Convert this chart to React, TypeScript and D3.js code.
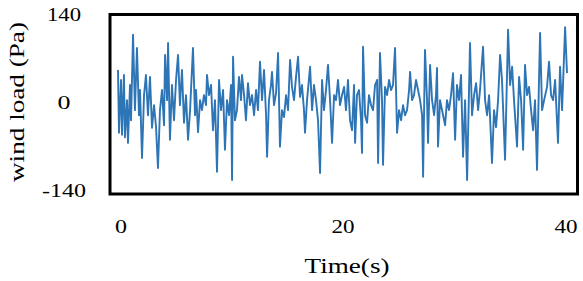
import React from "react";
import * as d3 from "d3";

const time: number[] = [
  0, 0.09, 0.27, 0.36, 0.53, 0.62, 0.8, 0.89, 1.07, 1.16, 1.34, 1.51, 1.69, 1.87, 1.96, 2.14, 2.32, 2.49, 2.67, 2.85,
  3.03, 3.21, 3.39, 3.56, 3.74, 3.92, 4.1, 4.19, 4.37, 4.46, 4.63, 4.81, 4.99, 5.17, 5.35, 5.52, 5.7, 5.88, 6.06, 6.24,
  6.42, 6.68, 6.86, 6.95, 7.13, 7.31, 7.48, 7.66, 7.84, 7.93, 8.11, 8.29, 8.46, 8.64, 8.82, 9.0, 9.18, 9.36, 9.53, 9.71,
  9.89, 10.07, 10.16, 10.25, 10.42, 10.6, 10.78, 10.96, 11.05, 11.23, 11.4, 11.58, 11.76, 11.94, 12.12, 12.3, 12.47, 12.65, 12.83, 13.01,
  13.19, 13.28, 13.45, 13.63, 13.72, 13.9, 14.08, 14.26, 14.43, 14.61, 14.79, 14.97, 15.15, 15.33, 15.5, 15.68, 15.86, 16.04, 16.22, 16.39,
  16.57, 16.66, 16.84, 17.11, 17.29, 17.46, 17.64, 17.82, 18.0, 18.18, 18.35, 18.53, 18.71, 18.89, 19.07, 19.25, 19.42, 19.6, 19.78, 19.96,
  20.14, 20.31, 20.49, 20.67, 20.85, 21.03, 21.12, 21.29, 21.47, 21.65, 21.74, 21.83, 22.01, 22.19, 22.36, 22.54, 22.72, 22.9, 23.08, 23.17,
  23.34, 23.52, 23.61, 23.79, 23.97, 24.15, 24.32, 24.5, 24.68, 24.86, 25.04, 25.22, 25.39, 25.57, 25.75, 25.93, 26.02, 26.2, 26.37, 26.55,
  26.73, 26.91, 27.09, 27.18, 27.35, 27.53, 27.62, 27.8, 27.98, 28.16, 28.33, 28.42, 28.51, 28.69, 28.96, 29.14, 29.31, 29.49, 29.67, 29.85,
  30.03, 30.2, 30.38, 30.56, 30.74, 30.92, 31.1, 31.36, 31.54, 31.72, 31.9, 32.08, 32.25, 32.52, 32.7, 32.88, 33.06, 33.32, 33.5, 33.68,
  33.86, 34.04, 34.21, 34.48, 34.75, 34.93, 35.11, 35.28, 35.55, 35.73, 35.91, 36.09, 36.26, 36.44, 36.62, 36.8, 36.98, 37.15, 37.33, 37.6,
  37.78, 37.96, 38.22, 38.4, 38.58, 38.76, 38.94, 39.2, 39.38, 39.56, 39.83, 40.0,
];

const windLoad: number[] = [
  51, -49, 35, -52, 43, -56, 3, -65, 27, -29, 107, -13, 86, -21, 19, -89, 11, 43, -21, 40,
  -41, -5, -40, -105, -13, 19, -37, 75, 3, 94, -60, 27, -29, 35, 75, -5, 51, -33, 11, -60,
  -13, 86, -21, 19, -48, 3, -13, 11, -5, 43, 11, 27, -45, 3, -111, 35, -13, 19, -76, 3,
  -21, 27, -124, 72, -29, -13, 40, 3, 43, 11, -29, 30, -5, 11, -21, 19, -13, 64, 3, 51,
  -21, -87, 3, 27, 48, -5, 14, 78, -71, -13, -24, 11, -13, 67, 24, 3, 40, 72, 8, 27,
  -13, -49, 3, 56, -13, 27, 3, -29, -113, 35, -13, 19, 59, 3, -65, 11, 3, 35, -5, 11,
  24, -13, 35, -29, -45, 27, -65, 11, 19, -29, -81, 88, -21, -33, 11, -5, -13, 27, 35, -97,
  78, 3, -100, 24, 11, 35, 19, 27, 86, -49, -13, -29, -5, -21, -13, 19, 48, 3, 11, 35,
  19, 3, -21, -119, 83, 3, -65, 59, 3, -21, 11, 54, -71, 3, -21, -37, 3, -13, 11, 46,
  -60, 27, 3, 43, -87, 3, -124, 94, -21, 11, 30, -13, 19, 88, 3, -21, 11, -97, -13, -40,
  3, 75, 35, -92, 115, 27, 56, 3, -71, 40, 3, -76, 59, 11, 24, -13, -45, 3, -108, 110,
  -13, 3, 24, 64, 11, 3, 35, -65, 56, -13, 119, 46,
];

const yTicks: number[] = [-140, 0, 140];
const xTicks: number[] = [0, 20, 40];

const FONT = "'Liberation Serif', 'Times New Roman', serif";

export default function App() {
  const x = d3.scaleLinear().domain([0, 40]).range([118, 567]);
  const y = d3.scaleLinear().domain([-140, 140]).range([190, 14]);
  const pts: [number, number][] = time.map((t, i) => [t, windLoad[i]]);
  const line = d3
    .line<[number, number]>()
    .x((d) => x(d[0]))
    .y((d) => y(d[1]));

  const xLabelLen: Record<number, number> = { 0: 12, 20: 23, 40: 23 };
  const yLabelLen: Record<number, number> = { [-140]: 44, 0: 13, 140: 34 };

  return (
    <svg
      width={583}
      height={281}
      style={{ position: "absolute", left: 0, top: 0, background: "#fff" }}
    >
      <rect x={0} y={0} width={583} height={281} fill="#fff" />
      <path
        d={line(pts) || ""}
        fill="none"
        stroke="#2e75b6"
        strokeWidth={1.9}
        strokeLinejoin="round"
      />
      <rect
        x={110}
        y={14.5}
        width={467.5}
        height={179.5}
        fill="none"
        stroke="#000"
        strokeWidth={3}
      />
      {yTicks.map((v) => (
        <text
          key={"y" + v}
          x={64}
          y={y(v) + 7}
          textAnchor="middle"
          fontFamily={FONT}
          fontSize={19}
          textLength={yLabelLen[v]}
          lengthAdjust="spacingAndGlyphs"
          fill="#000"
        >
          {v}
        </text>
      ))}
      {xTicks.map((v) => (
        <text
          key={"x" + v}
          x={v === 0 ? 121 : v === 20 ? 343 : 566}
          y={233}
          textAnchor="middle"
          fontFamily={FONT}
          fontSize={19}
          textLength={xLabelLen[v]}
          lengthAdjust="spacingAndGlyphs"
          fill="#000"
        >
          {v}
        </text>
      ))}
      <text
        x={347}
        y={273}
        textAnchor="middle"
        fontFamily={FONT}
        fontSize={21}
        textLength={85}
        lengthAdjust="spacingAndGlyphs"
        fill="#000"
      >
        Time(s)
      </text>
      <text
        transform="translate(24,102) rotate(-90)"
        textAnchor="middle"
        fontFamily={FONT}
        fontSize={21}
        textLength={160}
        lengthAdjust="spacingAndGlyphs"
        fill="#000"
      >
        wind load (Pa)
      </text>
    </svg>
  );
}
